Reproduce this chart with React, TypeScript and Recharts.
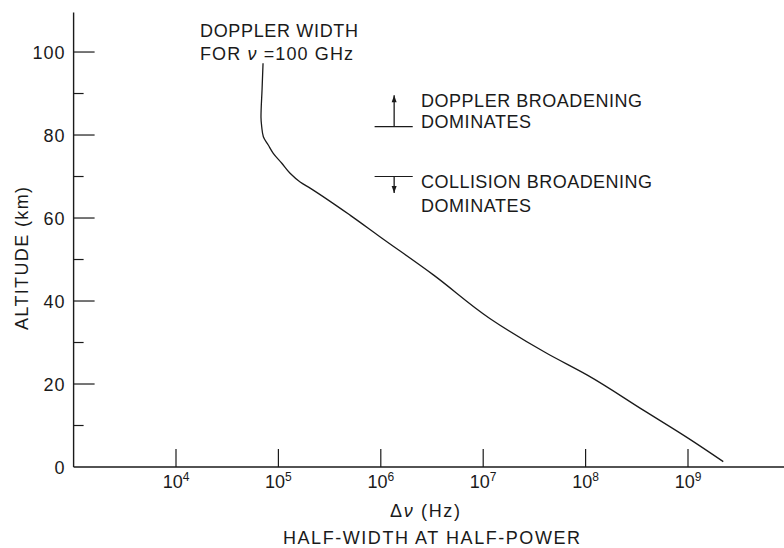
import React from 'react';
import { LineChart, Line, XAxis, YAxis, ReferenceLine } from 'recharts';

// Altitude (km) along the Doppler-width curve, top to bottom
const altitudeKm = [97.3, 90.8, 84.3, 82.0, 79.6, 77.6, 75.6, 73.2, 70.8, 68.7, 67.2, 60.7, 55.5, 46.3, 35.8, 27.4, 22.2, 13.7, 6.9, 1.3];
// Half-width at half-power (Hz) at each altitude
const halfWidthHz = [7.08e4, 6.92e4, 6.76e4, 6.87e4, 7.13e4, 7.96e4, 8.91e4, 1.08e5, 1.3e5, 1.63e5, 2.04e5, 5.0e5, 9.8e5, 3.26e6, 1.16e7, 4.17e7, 1.03e8, 3.66e8, 1.01e9, 2.21e9];

const xTicks = [1e4, 1e5, 1e6, 1e7, 1e8, 1e9];
const yTicks = [0, 10, 20, 30, 40, 50, 60, 70, 80, 90, 100];
const yLabelled = [0, 20, 40, 60, 80, 100];

// Annotation markers (altitude of the boundary bars, arrow tips, x extent)
const dopplerBarAlt = 82;
const dopplerArrowTip = 89.6;
const collisionBarAlt = 70;
const collisionArrowTip = 66;
const barHz = [8.7e5, 2.05e6];
const arrowHz = 1.35e6;

const data = altitudeKm.map((alt, i) => ({ alt, hz: halfWidthHz[i] }));

const FONT = '"Liberation Sans", Arial, sans-serif';
const INK = '#1a1a1a';

const XTick = (props: any) => {
  const { x, y, payload } = props;
  const exp = Math.round(Math.log10(payload.value));
  return (
    <g>
      <line x1={x} y1={y} x2={x} y2={y - 18} stroke={INK} strokeWidth={1.2} />
      <text x={x} y={y + 21} textAnchor="middle" fontFamily={FONT} fontSize={18} fill={INK}>
        10<tspan dy={-7} fontSize={12}>{exp}</tspan>
      </text>
    </g>
  );
};

const YTick = (props: any) => {
  const { x, y, payload } = props;
  const v = payload.value;
  const major = yLabelled.includes(v);
  return (
    <g>
      {v !== 0 && (
        <line x1={x} y1={y} x2={x + (major ? 21 : 10)} y2={y} stroke={INK} strokeWidth={1.2} />
      )}
      {major && (
        <text x={x - 8} y={y + 6.5} textAnchor="end" fontFamily={FONT} fontSize={18} letterSpacing={1} fill={INK}>
          {v}
        </text>
      )}
    </g>
  );
};

const Arrow = (props: any) => {
  const { x1, y1, x2, y2 } = props;
  const dir = y2 < y1 ? -1 : 1;
  return (
    <g>
      <line x1={x1} y1={y1} x2={x2} y2={y2} stroke={INK} strokeWidth={1.3} />
      <polygon
        points={`${x2},${y2} ${x2 - 2.5},${y2 - dir * 7} ${x2 + 2.5},${y2 - dir * 7}`}
        fill={INK}
      />
    </g>
  );
};

const Bar = (props: any) => {
  const { x1, y1, x2, y2 } = props;
  return <line x1={x1} y1={y1} x2={x2} y2={y2} stroke={INK} strokeWidth={1.2} />;
};

const txt = { fontFamily: FONT, fontSize: 18, fill: INK } as const;

export default function App() {
  return (
    <div style={{ position: 'absolute', left: 0, top: 0, width: 784, height: 548, overflow: 'hidden', background: '#fff' }}>
      <LineChart
        width={800}
        height={548}
        data={data}
        margin={{ top: 12.6, right: 9.6, bottom: 51, left: 0 }}
      >
        <XAxis
          type="number"
          dataKey="hz"
          scale="log"
          domain={[1e3, 1e10]}
          ticks={xTicks}
          allowDataOverflow
          height={30}
          tickSize={0}
          tickMargin={0}
          tickLine={false}
          axisLine={{ stroke: INK, strokeWidth: 1.4 }}
          tick={<XTick />}
          interval={0}
        />
        <YAxis
          type="number"
          dataKey="alt"
          domain={[0, 109.5]}
          ticks={yTicks}
          allowDataOverflow
          width={73.6}
          tickSize={0}
          tickMargin={0}
          tickLine={false}
          axisLine={{ stroke: INK, strokeWidth: 1.4 }}
          tick={<YTick />}
          interval={0}
        />
        <ReferenceLine
          segment={[{ x: barHz[0], y: dopplerBarAlt }, { x: barHz[1], y: dopplerBarAlt }]}
          shape={<Bar />}
        />
        <ReferenceLine
          segment={[{ x: arrowHz, y: dopplerBarAlt }, { x: arrowHz, y: dopplerArrowTip }]}
          shape={<Arrow />}
        />
        <ReferenceLine
          segment={[{ x: barHz[0], y: collisionBarAlt }, { x: barHz[1], y: collisionBarAlt }]}
          shape={<Bar />}
        />
        <ReferenceLine
          segment={[{ x: arrowHz, y: collisionBarAlt }, { x: arrowHz, y: collisionArrowTip }]}
          shape={<Arrow />}
        />
        <Line
          type="monotoneY"
          dataKey="alt"
          stroke={INK}
          strokeWidth={1.3}
          dot={false}
          isAnimationActive={false}
        />
      </LineChart>
      <svg width={784} height={548} style={{ position: 'absolute', left: 0, top: 0, pointerEvents: 'none' }}>
        <text {...txt} x={200} y={37} textLength={158} lengthAdjust="spacing">DOPPLER WIDTH</text>
        <text {...txt} x={200} y={60} textLength={153} lengthAdjust="spacing">
          FOR <tspan fontStyle="italic">ν</tspan> =100 GHz
        </text>
        <text {...txt} x={421} y={107} textLength={221} lengthAdjust="spacing">DOPPLER BROADENING</text>
        <text {...txt} x={421} y={128} textLength={110} lengthAdjust="spacing">DOMINATES</text>
        <text {...txt} x={421} y={188} textLength={231} lengthAdjust="spacing">COLLISION BROADENING</text>
        <text {...txt} x={421} y={212} textLength={110} lengthAdjust="spacing">DOMINATES</text>
        <text {...txt} x={390} y={517} textLength={70} lengthAdjust="spacing">
          Δ<tspan fontStyle="italic">ν</tspan> (Hz)
        </text>
        <text {...txt} x={283} y={544} textLength={297} lengthAdjust="spacing">HALF-WIDTH AT HALF-POWER</text>
        <text {...txt} transform="translate(28,330) rotate(-90)" x={0} y={0} textLength={143} lengthAdjust="spacing">
          ALTITUDE (km)
        </text>
      </svg>
    </div>
  );
}
